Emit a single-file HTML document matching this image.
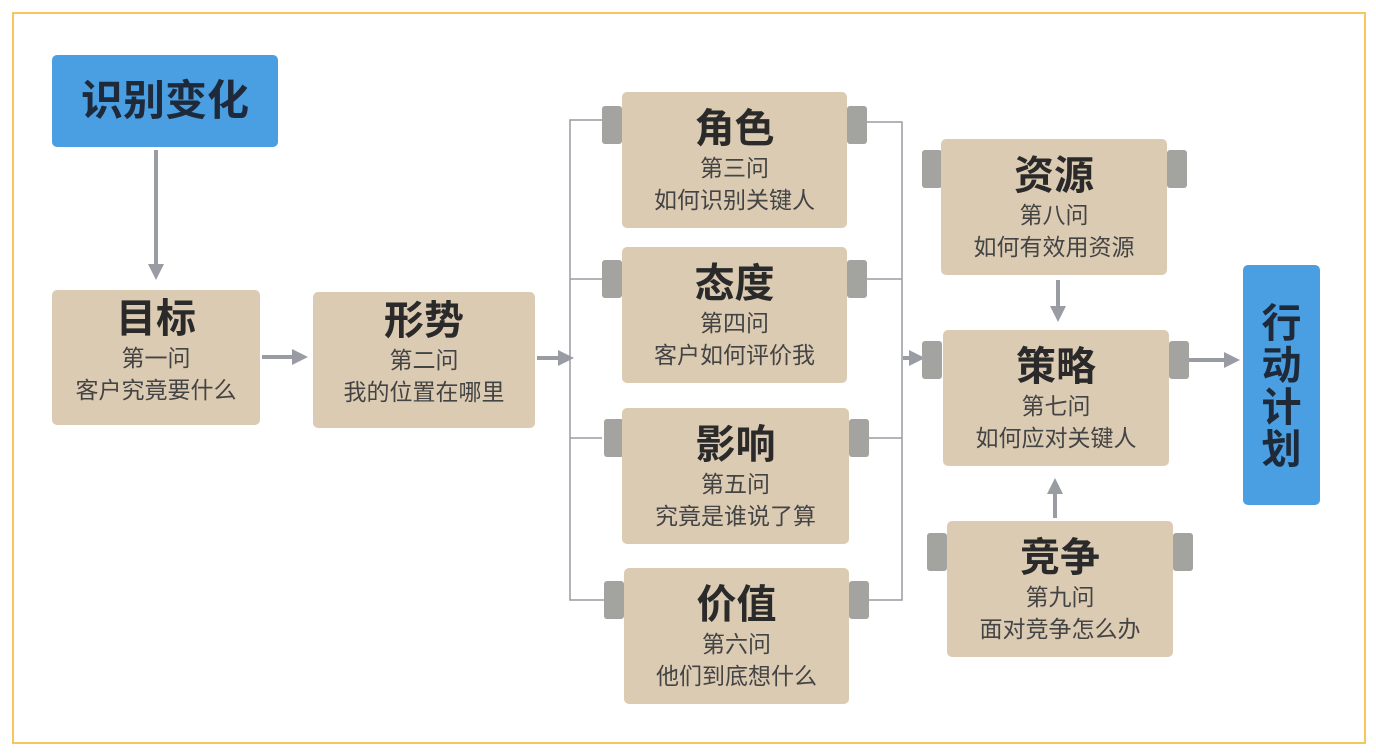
<!DOCTYPE html>
<html><head><meta charset="utf-8"><style>
body{margin:0;width:1376px;height:756px;background:#fff;position:relative;overflow:hidden;font-family:"Liberation Sans","Noto Sans CJK SC",sans-serif;}
.frame{position:absolute;left:12px;top:12px;width:1350px;height:728px;border:2px solid #f7c65c;}
.b{position:absolute;background:#dccbb3;border-radius:5px;text-align:center;color:#333;}
.b .t{font-size:40px;font-weight:bold;color:#2a2a2a;line-height:46px;margin-top:14px;}
.b .s{font-size:23px;line-height:32px;color:#444;}
.tab{position:absolute;width:20px;height:38px;background:#a3a39f;border-radius:3px;}
.blue{position:absolute;background:#4a9fe2;border-radius:5px;color:#1e2a3a;font-weight:bold;text-align:center;}
</style></head><body>
<div class="frame"></div>
<svg width="1376" height="756" style="position:absolute;left:0;top:0">
<defs><marker id="a" markerWidth="4" markerHeight="4" refX="2" refY="2" orient="auto"><path d="M0,0L4,2L0,4z" fill="#9a9ca4"/></marker></defs>
<g stroke="#9a9ca4" stroke-width="4" fill="none">
<line x1="156" y1="150" x2="156" y2="272" marker-end="url(#a)"/>
<line x1="262" y1="357" x2="300" y2="357" marker-end="url(#a)"/>
<line x1="537" y1="358" x2="566" y2="358" marker-end="url(#a)"/>
<line x1="903" y1="358" x2="917" y2="358" marker-end="url(#a)"/>
<line x1="1188" y1="360" x2="1232" y2="360" marker-end="url(#a)"/>
<line x1="1058" y1="280" x2="1058" y2="314" marker-end="url(#a)"/>
<line x1="1055" y1="518" x2="1055" y2="486" marker-end="url(#a)"/>
</g>
<g stroke="#9a9ca4" stroke-width="1.5" fill="none">
<polyline points="602,120 570,120 570,600 604,600"/>
<line x1="570" y1="279" x2="602" y2="279"/>
<line x1="570" y1="438" x2="602" y2="438"/>
<polyline points="867,122 902,122 902,600 869,600"/>
<line x1="867" y1="279" x2="902" y2="279"/>
<line x1="867" y1="438" x2="902" y2="438"/>
</g>
</svg>
<div class="blue" style="left:52px;top:55px;width:226px;height:92px;font-size:42px;line-height:92px;">识别变化</div>
<div class="blue" style="left:1243px;top:265px;width:77px;height:240px;font-size:40px;line-height:42px;padding-top:38px;box-sizing:border-box;">行<br>动<br>计<br>划</div>

<div class="b" style="left:52px;top:290px;width:208px;height:135px;"><div class="t" style="margin-top:6px">目标</div><div class="s">第一问<br>客户究竟要什么</div></div>
<div class="b" style="left:313px;top:292px;width:222px;height:136px;"><div class="t" style="margin-top:6px">形势</div><div class="s">第二问<br>我的位置在哪里</div></div>

<div class="tab" style="left:602px;top:106px"></div><div class="tab" style="left:847px;top:106px"></div>
<div class="b" style="left:622px;top:92px;width:225px;height:136px;"><div class="t">角色</div><div class="s">第三问<br>如何识别关键人</div></div>
<div class="tab" style="left:602px;top:260px"></div><div class="tab" style="left:847px;top:260px"></div>
<div class="b" style="left:622px;top:247px;width:225px;height:136px;"><div class="t">态度</div><div class="s">第四问<br>客户如何评价我</div></div>
<div class="tab" style="left:604px;top:419px"></div><div class="tab" style="left:849px;top:419px"></div>
<div class="b" style="left:622px;top:408px;width:227px;height:136px;"><div class="t">影响</div><div class="s">第五问<br>究竟是谁说了算</div></div>
<div class="tab" style="left:604px;top:581px"></div><div class="tab" style="left:849px;top:581px"></div>
<div class="b" style="left:624px;top:568px;width:225px;height:136px;"><div class="t">价值</div><div class="s">第六问<br>他们到底想什么</div></div>

<div class="tab" style="left:922px;top:150px"></div><div class="tab" style="left:1167px;top:150px"></div>
<div class="b" style="left:941px;top:139px;width:226px;height:136px;"><div class="t">资源</div><div class="s">第八问<br>如何有效用资源</div></div>
<div class="tab" style="left:922px;top:341px"></div><div class="tab" style="left:1169px;top:341px"></div>
<div class="b" style="left:943px;top:330px;width:226px;height:136px;"><div class="t">策略</div><div class="s">第七问<br>如何应对关键人</div></div>
<div class="tab" style="left:927px;top:533px"></div><div class="tab" style="left:1173px;top:533px"></div>
<div class="b" style="left:947px;top:521px;width:226px;height:136px;"><div class="t">竞争</div><div class="s">第九问<br>面对竞争怎么办</div></div>
</body></html>
